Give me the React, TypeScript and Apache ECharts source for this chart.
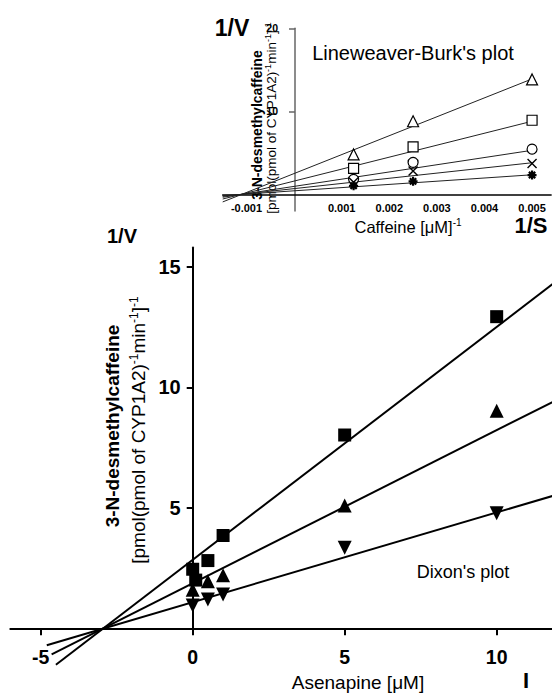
import React, { useEffect, useRef } from 'react';
import * as echarts from 'echarts';

// ---- Dixon plot (main) ----
const dixonTicksX = [-5, 0, 5, 10];
const dixonTicksY = [5, 10, 15];
const squareData = [[0, 2.45], [0.1, 2.0], [0.5, 2.81], [1, 3.85], [5, 8.02], [10, 12.93]];
const upTriData = [[0, 1.6], [0.5, 1.95], [1, 2.2], [5, 5.09], [10, 9.03]];
const downTriData = [[0, 0.95], [0.5, 1.2], [1, 1.4], [5, 3.34], [10, 4.77]];
const fitSquare = [[-4.5, -1.51], [12, 14.44]];
const fitUp = [[-4.64, -1.08], [12, 9.49]];
const fitDown = [[-4.8, -0.7], [12, 5.55]];

// ---- Lineweaver-Burk plot (inset) ----
const lbTicksX = [-0.001, 0.001, 0.002, 0.003, 0.004, 0.005];
const lbTicksY = [10, 20];
const lbX = [0.00125, 0.0025, 0.005];
const lbTriangle = [4.8, 8.8, 13.84];
const lbSquare = [3.12, 5.71, 8.92];
const lbCircle = [1.8, 3.84, 5.44];
const lbCross = [1.45, 2.8, 3.72];
const lbStar = [1.03, 1.56, 2.32];
const lbFitX = [-0.0015, 0.005];
const lbFitTriangle = [-0.92, 13.9];
const lbFitSquare = [-0.57, 8.8];
const lbFitCircle = [-0.35, 5.3];
const lbFitCross = [-0.25, 3.8];
const lbFitStar = [-0.16, 2.35];

const FONT = 'Liberation Sans';

const pair = (xs: number[], ys: number[]) => xs.map((x, i) => [x, ys[i]]);

const txt = (x: number, y: number, text: string, size: number, bold: boolean, extra: any = {}) => ({
  type: 'text', x, y, ...extra,
  style: {
    text, fontSize: size, fontWeight: bold ? 'bold' : 'normal', fontFamily: FONT,
    fill: '#000', align: 'center', verticalAlign: 'middle',
  },
});

const richTxt = (x: number, y: number, text: string, size: number, supSize: number, extra: any = {}) => ({
  type: 'text', x, y, ...extra,
  style: {
    text, align: 'center', verticalAlign: 'middle',
    rich: {
      a: { fontSize: size, fontFamily: FONT, fill: '#000', lineHeight: size + 2 },
      s: { fontSize: supSize, fontFamily: FONT, fill: '#000', verticalAlign: 'top', lineHeight: supSize },
    },
  },
});

export default function App() {
  const ref = useRef<HTMLDivElement>(null);
  useEffect(() => {
    document.body.style.margin = '0';
    const chart = echarts.init(ref.current!, null, { renderer: 'svg' });
    const downTri = 'path://M0,0L10,0L5,10Z';
    const cross = 'path://M0,0L10,10M10,0L0,10';
    const star = 'path://M5,0L5,10M0,5L10,5M1.5,1.5L8.5,8.5M8.5,1.5L1.5,8.5';
    const mainFit = (d: number[][]) => ({
      type: 'line', xAxisIndex: 0, yAxisIndex: 0, data: d, symbol: 'none', clip: false,
      lineStyle: { color: '#000', width: 2 }, silent: true, z: 2,
    });
    const lbFit = (ys: number[]) => ({
      type: 'line', xAxisIndex: 1, yAxisIndex: 1, data: pair(lbFitX, ys), symbol: 'none', clip: false,
      lineStyle: { color: '#222', width: 1 }, silent: true, z: 2,
    });
    const lbPts = (ys: number[], symbol: string, size: number, fill: string, bw: number) => ({
      type: 'scatter', xAxisIndex: 1, yAxisIndex: 1, data: pair(lbX, ys), symbol, symbolSize: size,
      itemStyle: { color: fill, borderColor: '#000', borderWidth: bw, opacity: 1 }, z: 3,
    });
    const supText = '{a|[pmol(pmol of CYP1A2)}{s|-1}{a|min}{s|-1}{a|]}{s|-1}';
    const option: any = {
      animation: false,
      backgroundColor: '#fff',
      grid: [
        { left: 10.3, right: 0, top: 247.5, bottom: 64.7, containLabel: false, outerBoundsMode: 'none' },
        { left: 222.7, right: 0.9, top: 28.3, bottom: 482.1, containLabel: false, outerBoundsMode: 'none' },
      ],
      xAxis: [
        {
          type: 'value', gridIndex: 0, min: -6, max: 11.82, position: 'bottom',
          splitLine: { show: false },
          axisLine: { onZero: false, lineStyle: { color: '#000', width: 2 } },
          axisTick: { show: true, length: 7, customValues: dixonTicksX, lineStyle: { color: '#000', width: 2 } },
          axisLabel: { customValues: dixonTicksX, margin: 19, fontSize: 19.5, fontWeight: 'bold', color: '#000', fontFamily: FONT },
        },
        {
          type: 'value', gridIndex: 1, min: -0.0015, max: 0.0054, position: 'bottom', offset: -16.6,
          splitLine: { show: false },
          axisLine: { onZero: false, lineStyle: { color: '#000', width: 1.5 } },
          axisTick: { show: false },
          axisLabel: {
            customValues: lbTicksX, margin: 8, fontSize: 11, fontWeight: 'bold', color: '#000', fontFamily: FONT,
            formatter: (v: number) => v.toFixed(3),
          },
        },
      ],
      yAxis: [
        {
          type: 'value', gridIndex: 0, min: 0, max: 15.8, position: 'left', offset: -182.4,
          splitLine: { show: false },
          axisLine: { onZero: false, lineStyle: { color: '#000', width: 2 } },
          axisTick: { show: true, length: 6, customValues: dixonTicksY, lineStyle: { color: '#000', width: 2 } },
          axisLabel: { customValues: dixonTicksY, margin: 12, fontSize: 20, fontWeight: 'bold', color: '#000', fontFamily: FONT },
        },
        {
          type: 'value', gridIndex: 1, min: -2, max: 20, position: 'left', offset: -72.3,
          splitLine: { show: false },
          axisLine: { onZero: false, lineStyle: { color: '#666', width: 1.5 } },
          axisTick: { show: true, length: 6, customValues: lbTicksY, lineStyle: { color: '#666', width: 1.5 } },
          axisLabel: { customValues: lbTicksY, margin: 17, fontSize: 10.5, fontWeight: 'bold', color: '#000', fontFamily: FONT },
        },
      ],
      series: [
        mainFit(fitSquare),
        mainFit(fitUp),
        mainFit(fitDown),
        { type: 'scatter', xAxisIndex: 0, yAxisIndex: 0, data: squareData, symbol: 'rect', symbolSize: 13, itemStyle: { color: '#000', opacity: 1 }, z: 3 },
        { type: 'scatter', xAxisIndex: 0, yAxisIndex: 0, data: upTriData, symbol: 'triangle', symbolSize: 14, itemStyle: { color: '#000', opacity: 1 }, z: 3 },
        { type: 'scatter', xAxisIndex: 0, yAxisIndex: 0, data: downTriData, symbol: downTri, symbolSize: 14, itemStyle: { color: '#000', opacity: 1 }, z: 3 },
        lbFit(lbFitTriangle),
        lbFit(lbFitSquare),
        lbFit(lbFitCircle),
        lbFit(lbFitCross),
        lbFit(lbFitStar),
        lbPts(lbTriangle, 'triangle', 11, '#fff', 1.2),
        lbPts(lbSquare, 'rect', 10, '#fff', 1.2),
        lbPts(lbCircle, 'circle', 10, '#fff', 1.2),
        lbPts(lbCross, cross, 9, 'none', 1.4),
        lbPts(lbStar, star, 9, 'none', 2.2),
      ],
      graphic: [
        // main
        txt(122, 236, '1/V', 20, true),
        txt(526, 680, 'I', 22, true),
        txt(358, 682, 'Asenapine [μM]', 19, false),
        txt(463, 572, "Dixon's plot", 18, false),
        txt(112, 426, '3-N-desmethylcaffeine', 19, true, { rotation: Math.PI / 2 }),
        richTxt(138, 430, supText, 19, 12, { rotation: Math.PI / 2 }),
        // inset
        txt(232, 28, '1/V', 23, true),
        txt(531, 225, '1/S', 22, true),
        txt(413, 53, "Lineweaver-Burk's plot", 20, false),
        richTxt(408, 227, '{a|Caffeine [μM]}{s|-1}', 16.5, 10),
        txt(257, 125, '3-N-desmethylcaffeine', 14, true, { rotation: Math.PI / 2 }),
        richTxt(271, 118, supText, 13.5, 9, { rotation: Math.PI / 2 }),
      ],
    };
    chart.setOption(option);
    return () => chart.dispose();
  }, []);
  return <div ref={ref} style={{ width: 552, height: 693 }} />;
}
